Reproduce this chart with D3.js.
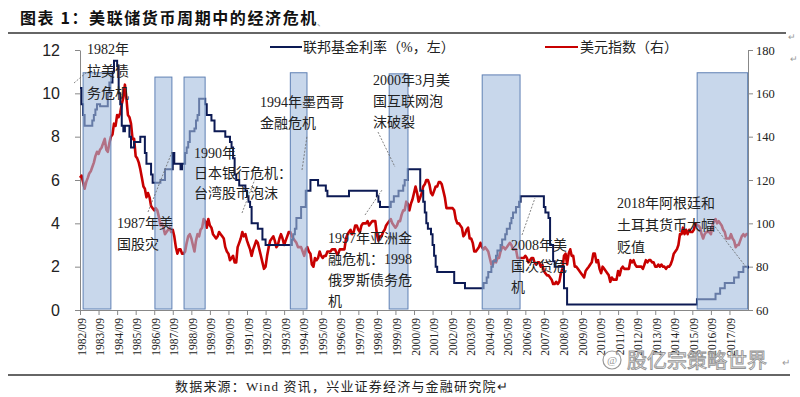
<!DOCTYPE html>
<html><head><meta charset="utf-8">
<script src="https://cdn.jsdelivr.net/npm/d3@7"></script>
<style>body{margin:0;background:#fff}svg{display:block}</style>
</head><body><svg id="c" width="800" height="397"></svg>
<script>
// ---------- DATA ----------
const yearLabels = ["1982/09","1983/09","1984/09","1985/09","1986/09","1987/09","1988/09","1989/09","1990/09","1991/09","1992/09","1993/09","1994/09","1995/09","1996/09","1997/09","1998/09","1999/09","2000/09","2001/09","2002/09","2003/09","2004/09","2005/09","2006/09","2007/09","2008/09","2009/09","2010/09","2011/09","2012/09","2013/09","2014/09","2015/09","2016/09","2017/09"];

const fedDates = ["1982-09","1982-10","1982-11","1982-12","1983-05","1983-06","1983-07","1983-08","1983-10","1984-03","1984-04","1984-06","1984-07","1984-09","1984-10","1984-11","1984-12","1985-01","1985-02","1985-05","1985-06","1985-08","1985-12","1986-03","1986-04","1986-07","1986-08","1987-01","1987-04","1987-09","1987-10","1988-02","1988-03","1988-05","1988-06","1988-07","1988-08","1988-11","1988-12","1989-01","1989-02","1989-06","1989-07","1989-10","1989-12","1990-07","1990-10","1990-11","1990-12","1991-01","1991-02","1991-04","1991-08","1991-09","1991-10","1991-11","1991-12","1992-04","1992-07","1992-09","1994-02","1994-03","1994-04","1994-05","1994-08","1994-11","1995-02","1995-07","1995-12","1996-01","1997-03","1998-09","1998-10","1998-11","1999-06","1999-08","1999-11","2000-02","2000-03","2000-05","2001-01","2001-03","2001-04","2001-05","2001-06","2001-08","2001-09","2001-10","2001-11","2001-12","2002-11","2003-06","2004-06","2004-08","2004-09","2004-11","2004-12","2005-02","2005-03","2005-05","2005-06","2005-08","2005-09","2005-11","2005-12","2006-01","2006-03","2006-05","2006-06","2007-09","2007-10","2007-12","2008-01","2008-03","2008-04","2008-10","2008-12","2015-12","2016-12","2017-03","2017-06","2017-12","2018-03","2018-06","2018-09"];
const fedRates = [10.25,9.5,9.0,8.5,8.75,9.0,9.25,9.5,9.4,10.0,10.5,11.0,11.5,11.25,10.0,9.5,8.5,8.25,8.5,8.0,7.5,7.75,8.0,7.25,6.75,6.25,5.875,6.0,6.5,7.25,6.75,6.5,6.75,7.25,7.5,7.75,8.25,8.375,8.75,9.0,9.75,9.5,9.0,8.75,8.25,8.0,7.75,7.5,7.0,6.25,6.0,5.75,5.5,5.25,5.0,4.75,4.0,3.75,3.25,3.0,3.25,3.5,3.75,4.25,4.75,5.5,6.0,5.75,5.5,5.25,5.5,5.25,5.0,4.75,5.0,5.25,5.5,5.75,6.0,6.5,5.5,5.0,4.5,4.0,3.75,3.5,3.0,2.5,2.0,1.75,1.25,1.0,1.25,1.5,1.75,2.0,2.25,2.5,2.75,3.0,3.25,3.5,3.75,4.0,4.25,4.5,4.75,5.0,5.25,4.75,4.5,4.25,3.0,2.25,2.0,1.0,0.25,0.5,0.75,1.0,1.25,1.5,1.75,2.0,1.91];

const dxyStart = "1982-09";
const dxy1982 = [121,122,119,116];
const dxy1983 = [119,121,123,124,126,128,131,133,132,134,135,137];
const dxy1984 = [139,134,133,137,140,141,146,145,150,149,151,155];
const dxy1985 = [158,164,158,150,149,146,139,139,131,130,128,125];
const dxy1986 = [121,117,116,112,114,112,108,107,106,107,106,103];
const dxy1987 = [99,100,98,95,96,97,98,96,97,94,89,86];
const dxy1988 = [88,88,86,86,87,91,94,95,93,90,87,92];
const dxy1989 = [95,94,97,98,102,101,98,102,99,98,95,94];
const dxy1990 = [93,94,96,95,94,93,89,87,86,83,84,85];
const dxy1991 = [82,82,89,91,93,96,94,95,92,90,88,85];
const dxy1992 = [88,90,92,91,88,85,82,79,80,85,89,92];
const dxy1993 = [93,94,92,89,90,93,95,93,90,92,94,96];
const dxy1994 = [96,94,93,92,91,89,89,89,87,85,88,89];
const dxy1995 = [87,86,81,80,84,83,84,87,85,84,85,85];
const dxy1996 = [87,87,87,88,88,88,86,86,88,88,88,88];
const dxy1997 = [93,95,96,97,95,96,99,99,97,96,99,100];
const dxy1998 = [100,100,101,99,100,101,101,101,95,92,94,94];
const dxy1999 = [96,97,99,100,101,102,100,99,98,99,101,101];
const dxy2000 = [104,106,106,110,109,106,109,111,114,117,114,110];
const dxy2001 = [112,114,117,118,120,120,118,114,113,115,117,117];
const dxy2002 = [119,119,118,115,112,107,107,107,107,107,106,102];
const dxy2003 = [100,100,99,98,94,95,97,98,93,93,91,87];
const dxy2004 = [87,88,89,91,89,88,89,88,87,84,81,81];
const dxy2005 = [83,82,84,84,87,89,89,88,89,90,91,90];
const dxy2006 = [88,88,88,84,84,84,84,84,85,84,82,83];
const dxy2007 = [84,84,82,81,82,82,80,81,78,77,76,76];
const dxy2008 = [75,74,72,72,73,72,73,77,79,85,86,81];
const dxy2009 = [86,88,85,85,80,80,79,78,77,76,75,78];
const dxy2010 = [79,80,81,82,86,86,82,83,79,77,80,79];
const dxy2011 = [78,77,76,73,75,74,74,74,78,76,79,80];
const dxy2012 = [79,79,79,79,83,82,83,81,80,80,80,80];
const dxy2013 = [79,81,83,82,83,83,82,82,80,80,81,80];
const dxy2014 = [81,80,80,79,80,80,81,83,86,87,88,90];
const dxy2015 = [95,95,98,95,97,95,97,96,96,97,100,99];
const dxy2016 = [99,98,95,93,95,96,96,96,95,99,101,102];
const dxy2017 = [100,101,100,99,97,96,93,93,93,95,93,92];
const dxy2018 = [89,90,90,92,94,95,94,95,95];

const bandStart = ["1982-11-01","1986-09-15","1988-04-10","1994-01-01","1999-05-01","2004-05-05","2015-12-05"];
const bandEnd   = ["1984-05-01","1987-08-15","1989-05-30","1994-11-25","2000-05-05","2006-05-20","2018-08-25"];
const bandTop   = [10.95,10.75,10.75,10.95,10.9,10.85,10.95];

const leftTicks = [0,2,4,6,8,10,12];
const rightTicks = [60,80,100,120,140,160,180];

const legendLabels = ["联邦基金利率（%，左）","美元指数（右）"];
const titleText = "图表 1：美联储货币周期中的经济危机";
const sourceText = "数据来源：Wind 资讯，兴业证券经济与金融研究院";
const notes = [
  ["1982年","拉美债","务危机"],
  ["1987年美","国股灾"],
  ["1990年","日本银行危机：","台湾股市泡沫"],
  ["1994年墨西哥","金融危机"],
  ["2000年3月美","国互联网泡","沫破裂"],
  ["1997年亚洲金","融危机：1998","俄罗斯债务危","机"],
  ["2008年美","国次贷危","机"],
  ["2018年阿根廷和","土耳其货币大幅","贬值"]
];

// ---------- LAYOUT ----------
const svg = d3.select("#c");
const L = 80, R = 748, T = 50, B = 310;
const parseM = d3.timeParse("%Y-%m");
const parseD = d3.timeParse("%Y-%m-%d");
const x = d3.scaleTime().domain([parseM("1982-09"), parseM("2018-09")]).range([L, R]);
const yL = d3.scaleLinear().domain([0, 12]).range([B, T]);
const yR = d3.scaleLinear().domain([60, 180]).range([B, T]);

const serif = "'Liberation Serif','Noto Sans CJK SC',serif";
const cjk = "'Liberation Serif','Noto Sans CJK SC',sans-serif";

// Title
svg.append("text").attr("x", 20).attr("y", 24)
  .attr("font-family", "'Noto Sans CJK SC',sans-serif").attr("font-weight", 700)
  .attr("font-size", 16).attr("letter-spacing", 1.6).attr("fill", "#111").text(titleText);
svg.append("text").attr("x", 317).attr("y", 26).attr("font-size", 9).attr("fill", "#999")
  .attr("font-family", "'Noto Sans CJK SC',sans-serif").text("、");
svg.append("line").attr("x1", 8).attr("x2", 786).attr("y1", 33).attr("y2", 33)
  .attr("stroke", "#333").attr("stroke-width", 1.5);
svg.append("text").attr("x", 788).attr("y", 40).attr("font-size", 9).attr("fill", "#999").text("↵");
svg.append("text").attr("x", 790).attr("y", 62).attr("font-size", 9).attr("fill", "#999").text("↵");

// Data prep
const fedData = fedDates.map((d, i) => ({ date: parseM(d), v: fedRates[i] }));
const dxyAll = [].concat(dxy1982,dxy1983,dxy1984,dxy1985,dxy1986,dxy1987,dxy1988,dxy1989,dxy1990,dxy1991,dxy1992,dxy1993,dxy1994,dxy1995,dxy1996,dxy1997,dxy1998,dxy1999,dxy2000,dxy2001,dxy2002,dxy2003,dxy2004,dxy2005,dxy2006,dxy2007,dxy2008,dxy2009,dxy2010,dxy2011,dxy2012,dxy2013,dxy2014,dxy2015,dxy2016,dxy2017,dxy2018);
const s0 = parseM(dxyStart);
const dxyData = dxyAll.map((v, i) => ({ date: d3.timeMonth.offset(s0, i), v }));

// Axes
const tickDates = yearLabels.map(s => parseM(s.replace("/", "-")));
const gx = svg.append("g").attr("transform", `translate(0,${B})`)
  .call(d3.axisBottom(x).tickValues(tickDates).tickSize(5).tickSizeOuter(0).tickFormat((d, i) => yearLabels[i]));
gx.selectAll("text").attr("transform", "rotate(-90)").attr("text-anchor", "end")
  .attr("x", -8).attr("y", 1).attr("dy", "0.35em")
  .attr("font-family", serif).attr("font-size", 11.5).attr("fill", "#222");
gx.selectAll("line").attr("stroke", "#888");
gx.select(".domain").attr("stroke", "#888");

const gl = svg.append("g").attr("transform", `translate(${L},0)`)
  .call(d3.axisLeft(yL).tickValues(leftTicks).tickSize(5).tickSizeOuter(0).tickPadding(15));
gl.selectAll("text").attr("font-family", "'Liberation Sans',Arial,sans-serif").attr("font-size", 16).attr("fill", "#222");
gl.selectAll("line").attr("stroke", "#888");
gl.select(".domain").attr("stroke", "#888");

const gr = svg.append("g").attr("transform", `translate(${R},0)`)
  .call(d3.axisRight(yR).tickValues(rightTicks).tickSize(5).tickSizeOuter(0).tickPadding(3));
gr.selectAll("text").attr("font-family", serif).attr("font-size", 12.5).attr("fill", "#222");
gr.selectAll("line").attr("stroke", "#888");
gr.select(".domain").attr("stroke", "#888");

// Lines
svg.append("path").datum(dxyData)
  .attr("d", d3.line().x(d => x(d.date)).y(d => yR(d.v)))
  .attr("fill", "none").attr("stroke", "#c80000").attr("stroke-width", 2.6).attr("stroke-linejoin", "round");
svg.append("path").datum(fedData)
  .attr("d", d3.line().curve(d3.curveStepAfter).x(d => x(d.date)).y(d => yL(d.v)))
  .attr("fill", "none").attr("stroke", "#0c1a54").attr("stroke-width", 2);

// Bands (translucent, on top)
svg.append("g").selectAll("rect").data(bandStart).join("rect")
  .attr("x", (d, i) => x(parseD(d)))
  .attr("width", (d, i) => x(parseD(bandEnd[i])) - x(parseD(d)))
  .attr("y", (d, i) => yL(bandTop[i]))
  .attr("height", (d, i) => yL(0) - yL(bandTop[i]) - 1)
  .attr("fill", "rgb(163,188,222)").attr("fill-opacity", 0.6)
  .attr("stroke", "#5f80b4").attr("stroke-width", 1);

// Legend
const lg = svg.append("g");
lg.append("line").attr("x1", 270).attr("x2", 302).attr("y1", 47).attr("y2", 47).attr("stroke", "#0c1a54").attr("stroke-width", 2);
lg.append("text").attr("x", 303).attr("y", 52).attr("font-family", cjk).attr("font-size", 14).attr("fill", "#222").text(legendLabels[0]);
lg.append("line").attr("x1", 545).attr("x2", 578).attr("y1", 47).attr("y2", 47).attr("stroke", "#c80000").attr("stroke-width", 2);
lg.append("text").attr("x", 580).attr("y", 52).attr("font-family", cjk).attr("font-size", 14).attr("fill", "#222").text(legendLabels[1]);

// Annotations
const notePos = [[87,54,22],[117,228,21],[194,158,20],[260,107,21],[373,85,21],[328,243,21],[511,250,21],[617,208,22]];
const leaders = [[74,83,87,72],[148,212,172,152],[242,213,255,179],[302,170,307,136],[378,132,395,167],[365,215,382,190],[522,235,535,198],[713,224,746,267]];
svg.append("g").selectAll("line").data(leaders).join("line")
  .attr("x1", d => d[0]).attr("y1", d => d[1]).attr("x2", d => d[2]).attr("y2", d => d[3])
  .attr("stroke", "#666").attr("stroke-width", 0.8).attr("stroke-dasharray", "2,1.5");
notes.forEach((lines, k) => {
  const [nx, ny, lh] = notePos[k];
  const t = svg.append("text").attr("font-family", cjk).attr("font-size", 14).attr("fill", "#222");
  lines.forEach((s, j) => t.append("tspan").attr("x", nx).attr("y", ny + j * lh).text(s));
});

// Footer
svg.append("line").attr("x1", 8).attr("x2", 790).attr("y1", 375).attr("y2", 375).attr("stroke", "#333").attr("stroke-width", 1.5);
svg.append("text").attr("x", 175).attr("y", 391).attr("font-family", cjk).attr("font-size", 13)
  .attr("letter-spacing", 1.2).attr("fill", "#222").text(sourceText + "↵");

// Watermark
svg.append("circle").attr("cx", 612).attr("cy", 360).attr("r", 9).attr("fill", "none").attr("stroke", "#999").attr("stroke-width", 1.2);
svg.append("text").attr("x", 612).attr("y", 364).attr("text-anchor", "middle").attr("font-size", 11).attr("fill", "#999").text("@");
svg.append("text").attr("x", 627).attr("y", 368).attr("font-family", "'Noto Sans CJK SC',sans-serif").attr("font-size", 20)
  .attr("fill", "#fff").attr("stroke", "#8a8a8a").attr("stroke-width", 0.9).attr("opacity", 0.9).text("股亿宗策略世界");
svg.append("text").attr("x", 782).attr("y", 366).attr("font-size", 10).attr("fill", "#999").text("↵");
</script>
</body></html>
